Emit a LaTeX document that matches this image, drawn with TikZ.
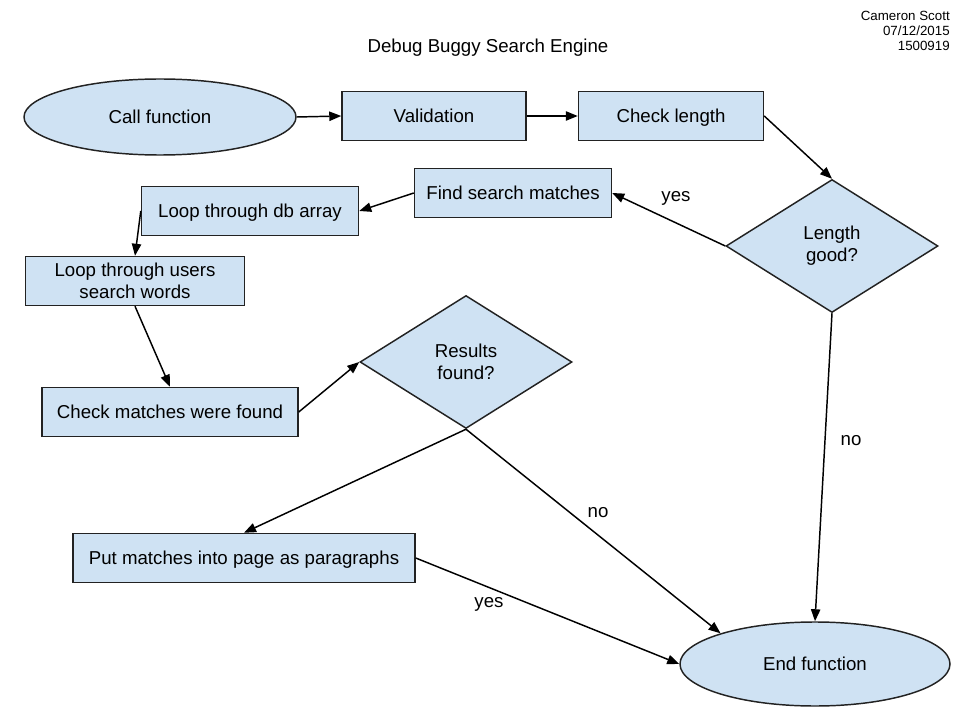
\documentclass[tikz,border=0pt]{standalone}
\usepackage{fontspec}
\setmainfont{Liberation Sans}
\usetikzlibrary{shapes.geometric,arrows.meta}
\definecolor{boxfill}{HTML}{CFE2F3}
\definecolor{boxline}{HTML}{222222}
\begin{document}
\begin{tikzpicture}[x=0.75pt,y=-0.75pt,
  every node/.style={font=\fontsize{14}{16.5}\selectfont},
  stepbox/.style={draw=boxline,fill=boxfill,line width=1.1pt,rectangle,
    minimum height=49*0.75pt,inner sep=0pt,align=center},
  oneline/.style={text height=10pt,text depth=0pt},
  terminal/.style={draw=boxline,fill=boxfill,line width=1.1pt,ellipse,
    inner sep=0pt,oneline},
  decision/.style={draw=boxline,fill=boxfill,line width=1.1pt,diamond,
    inner sep=0pt,minimum width=212*0.75pt,minimum height=133*0.75pt,align=center},
  flow/.style={line width=1.1pt,-{Triangle[length=9pt,width=7pt]}},
  note/.style={inner sep=0pt}]
\useasboundingbox (0,0) rectangle (960,720);

% header
\node[note] (title) at (488,48) {Debug Buggy Search Engine};
\node[note,anchor=north east,align=right,font=\fontsize{10}{11.25}\selectfont]
  (author) at (950,11) {Cameron Scott\\07/12/2015\\1500919};

% flow nodes
\node[terminal,minimum width=272*0.75pt,minimum height=76*0.75pt] (call) at (160,117) {Call function};
\node[stepbox,oneline,minimum width=184*0.75pt] (valid) at (434,116) {Validation};
\node[stepbox,oneline,minimum width=185*0.75pt] (chklen) at (671,116) {Check length};
\node[decision] (lengood) at (832,246) {Length\\good?};
\node[stepbox,oneline,minimum width=197*0.75pt] (find) at (513,193) {Find search matches};
\node[stepbox,oneline,minimum width=217*0.75pt] (loopdb) at (250,211) {Loop through db array};
\node[stepbox,minimum width=219*0.75pt] (loopwords) at (135,281) {Loop through users\\search words};
\node[stepbox,oneline,minimum width=256*0.75pt] (chkmatch) at (170,412) {Check matches were found};
\node[decision] (results) at (466,362) {Results\\found?};
\node[stepbox,oneline,minimum width=342*0.75pt] (put) at (244,558) {Put matches into page as paragraphs};
\node[terminal,minimum width=270*0.75pt,minimum height=84*0.75pt] (endf) at (815,664) {End function};

% connectors
\draw[flow] (call.east) -- (valid.west);
\draw[flow] (valid.east) -- (chklen.west);
\draw[flow] (chklen.east) -- (lengood.north);
\draw[flow] (lengood.west) -- (find.east);
\draw[flow] (find.west) -- (loopdb.east);
\draw[flow] (loopdb.west) -- (loopwords.north);
\draw[flow] (loopwords.south) -- (chkmatch.north);
\draw[flow] (chkmatch.east) -- (results.west);
\draw[flow] (results.south) -- (put.north);
\draw[flow] (results.south) -- (endf.162);
\draw[flow] (lengood.south) -- (endf.north);
\draw[flow] (put.east) -- (endf.west);

% branch labels
\node[note] (lyes1) at (676,198) {yes};
\node[note] (lno1) at (851,441) {no};
\node[note] (lno2) at (598,513) {no};
\node[note] (lyes2) at (489,604) {yes};
\end{tikzpicture}
\end{document}
